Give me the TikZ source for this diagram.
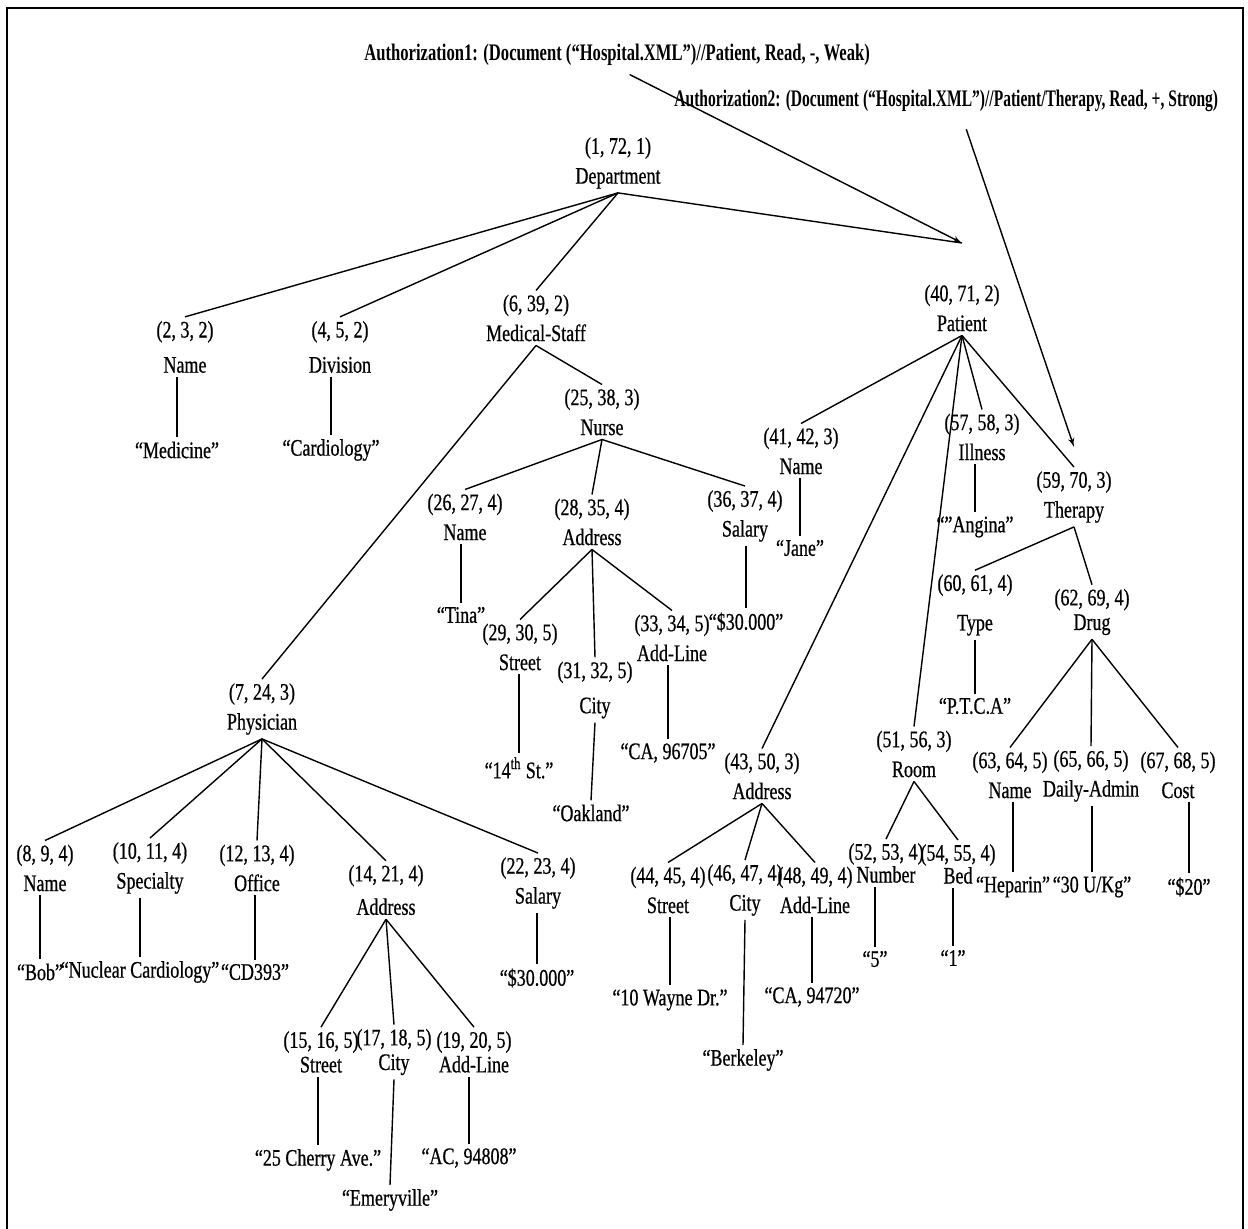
\documentclass[tikz,border=0pt]{standalone}
\usepackage{fontspec}
\setmainfont{Liberation Serif}[FakeStretch=0.76, FakeBold=0.6]
\newfontfamily\authfont{Liberation Serif}[FakeStretch=0.70]
\newfontfamily\authfontb{Liberation Serif}[FakeStretch=0.655]
\usepackage{tikz}
\usetikzlibrary{shapes,arrows,positioning}

\begin{document}
\begin{tikzpicture}[x=0.02cm, y=-0.02cm, >=latex', line width=0.8pt,
	el/.style={align=center, inner sep=2pt, font=\fontsize{13.5}{17}\selectfont},
	val/.style={inner sep=2pt, font=\fontsize{13.5}{17}\selectfont},
	auth/.style={inner sep=1pt, font=\fontsize{13.5}{17}\authfont\bfseries}]
	\useasboundingbox (0,0) rectangle (1248,1229);
	\draw [line width=1.2pt] (7,1229) -- (7,8) -- (1243,8) -- (1243,1229);
	% the two authorizations
	\node [auth, anchor=west] (auth1) at (362,55) {Authorization1: (Document (“Hospital.XML”)//Patient, Read, -, Weak)};
	\node [auth, anchor=west, font=\fontsize{13.5}{17}\authfontb\bfseries] (auth2) at (672,101) {Authorization2: (Document (“Hospital.XML”)//Patient/Therapy, Read, +, Strong)};
	% We start by placing the elements
	\node [el] (dept) at (618,163) {(1, 72, 1)\\Department};
	\node [el] (dname) at (185,347) {(2, 3, 2)\\[3pt]Name};
	\node [el] (ddiv) at (340,347) {(4, 5, 2)\\[3pt]Division};
	\node [el] (mstaff) at (536,318) {(6, 39, 2)\\Medical-Staff};
	\node [el] (patient) at (962,308) {(40, 71, 2)\\Patient};
	\coordinate [above=0.75cm of patient.north] (ptop);
	% medical staff: nurse
	\node [el] (nurse) at (602,412) {(25, 38, 3)\\Nurse};
	\node [el] (nname) at (465,517) {(26, 27, 4)\\Name};
	\node [el] (naddr) at (592,522) {(28, 35, 4)\\Address};
	\node [el] (nsal) at (745,516) {(36, 37, 4)\\Salary};
	\node [el] (nstreet) at (520,647) {(29, 30, 5)\\Street};
	\node [el] (ncity) at (595,690) {(31, 32, 5)\\[3pt]City};
	\node [el] (nline) at (672,638) {(33, 34, 5)\\Add-Line};
	% medical staff: physician
	\node [el] (phys) at (262,709) {(7, 24, 3)\\Physician};
	\node [el] (pname) at (45,868) {(8, 9, 4)\\Name};
	\node [el] (pspec) at (150,868) {(10, 11, 4)\\Specialty};
	\node [el] (poff) at (257,868) {(12, 13, 4)\\Office};
	\node [el] (paddr) at (386,890) {(14, 21, 4)\\[2pt]Address};
	\node [el] (psal) at (538,883) {(22, 23, 4)\\Salary};
	\node [el] (pstreet) at (321,1052) {(15, 16, 5)\\[-3pt]Street};
	\node [el] (pcity) at (394,1052) {(17, 18, 5)\\[-3pt]City};
	\node [el] (pline) at (474,1052) {(19, 20, 5)\\[-3pt]Add-Line};
	% patient
	\node [el] (tname) at (801,451) {(41, 42, 3)\\Name};
	\node [el] (till) at (982,437) {(57, 58, 3)\\Illness};
	\node [el] (ther) at (1074,497) {(59, 70, 3)\\Therapy};
	\coordinate [above=0.4cm of ther.north] (thtop);
	\node [el] (ttype) at (975,605) {(60, 61, 4)\\[5.5pt]Type};
	\node [el] (tdrug) at (1092,612) {(62, 69, 4)\\[-3pt]Drug};
	\node [el] (gname) at (1010,775) {(63, 64, 5)\\Name};
	\node [el] (gdaily) at (1091,776) {(65, 66, 5)\\Daily-Admin};
	\node [el] (gcost) at (1178,775) {(67, 68, 5)\\Cost};
	\node [el] (taddr) at (762,776) {(43, 50, 3)\\Address};
	\node [el] (tstreet) at (668,890) {(44, 45, 4)\\Street};
	\node [el] (tcity) at (745,890) {(46, 47, 4)\\City};
	\node [el] (tline) at (815,890) {(48, 49, 4)\\Add-Line};
	\node [el] (room) at (914,754) {(51, 56, 3)\\Room};
	\node [el] (rnum) at (886,863) {(52, 53, 4)\\[-4pt]Number};
	\node [el] (rbed) at (958,864) {(54, 55, 4)\\[-4pt]Bed};
	% values
	\node [val] (vmed) at (177,450) {“Medicine”};
	\node [val] (vcard) at (331,450) {“Cardiology”};
	\node [val] (vtina) at (461,615) {“Tina”};
	\node [val] (vst) at (519,768) {“14\textsuperscript{th} St.”};
	\node [val] (voak) at (591,813) {“Oakland”};
	\node [val] (v96705) at (668,753) {“CA, 96705”};
	\node [val] (vnsal) at (746,622) {“\$30.000”};
	\node [val] (vbob) at (40,972) {“Bob”};
	\node [val] (vnuc) at (140,972) {“Nuclear Cardiology”};
	\node [val] (vcd) at (255,972) {“CD393”};
	\node [val] (vcherry) at (318,1160) {“25 Cherry Ave.”};
	\node [val] (vemery) at (390,1200) {“Emeryville”};
	\node [val] (v94808) at (469,1158) {“AC, 94808”};
	\node [val] (vpsal) at (537,978) {“\$30.000”};
	\node [val] (vjane) at (800,548) {“Jane”};
	\node [val] (vang) at (975,527) {“"Angina”};
	\node [val] (vptca) at (975,706) {“P.T.C.A”};
	\node [val] (vhep) at (1013,887) {“Heparin”};
	\node [val] (vukg) at (1092,887) {“30 U/Kg”};
	\node [val] (vcost) at (1189,887) {“\$20”};
	\node [val] (vwayne) at (670,1000) {“10 Wayne Dr.”};
	\node [val] (vberk) at (743,1060) {“Berkeley”};
	\node [val] (v94720) at (812,997) {“CA, 94720”};
	\node [val] (vfive) at (875,959) {“5”};
	\node [val] (vone) at (953,958) {“1”};
	% Once the nodes are placed, connecting them is easy.
	\draw [->, shorten <=8pt] (auth1.south) -- (ptop);
	\draw [->] ([xshift=0.4cm, yshift=-0.3cm]auth2.south) -- (thtop);
	\draw (dept.south) -- (dname.north);
	\draw (dept.south) -- (ddiv.north);
	\draw (dept.south) -- (mstaff.north);
	\draw (dept.south) -- (ptop);
	\draw (mstaff.south) -- (phys.north);
	\draw (mstaff.south) -- (nurse.north);
	\draw (nurse.south) -- (nname.north);
	\draw (nurse.south) -- (naddr.north);
	\draw (nurse.south) -- (nsal.north);
	\draw (naddr.south) -- (nstreet.north);
	\draw (naddr.south) -- (ncity.north);
	\draw (naddr.south) -- (nline.north);
	\draw (phys.south) -- (pname.north);
	\draw (phys.south) -- (pspec.north);
	\draw (phys.south) -- (poff.north);
	\draw (phys.south) -- (paddr.north);
	\draw (phys.south) -- (psal.north);
	\draw (paddr.south) -- (pstreet.north);
	\draw (paddr.south) -- (pcity.north);
	\draw (paddr.south) -- (pline.north);
	\draw (patient.south) -- (tname.north);
	\draw (patient.south) -- (taddr.north);
	\draw (patient.south) -- (room.north);
	\draw (patient.south) -- (till.north);
	\draw (patient.south) -- (ther.north);
	\draw (ther.south) -- (ttype.north);
	\draw (ther.south) -- (tdrug.north);
	\draw (tdrug.south) -- (gname.north);
	\draw (tdrug.south) -- (gdaily.north);
	\draw (tdrug.south) -- (gcost.north);
	\draw (taddr.south) -- (tstreet.north);
	\draw (taddr.south) -- (tcity.north);
	\draw (taddr.south) -- (tline.north);
	\draw (room.south) -- (rnum.north);
	\draw (room.south) -- (rbed.north);
	% leaves
	\draw (vmed.north |- dname.south) -- (vmed.north);
	\draw (vcard.north |- ddiv.south) -- (vcard.north);
	\draw (vtina.north |- nname.south) -- (vtina.north);
	\draw (vst.north |- nstreet.south) -- (vst.north);
	\draw (ncity.south) -- (voak.north);
	\draw (v96705.north |- nline.south) -- (v96705.north);
	\draw (vnsal.north |- nsal.south) -- (vnsal.north);
	\draw (vbob.north |- pname.south) -- (vbob.north);
	\draw (vnuc.north |- pspec.south) -- (vnuc.north);
	\draw (vcd.north |- poff.south) -- (vcd.north);
	\draw (vcherry.north |- pstreet.south) -- (vcherry.north);
	\draw (pcity.south) -- (vemery.north);
	\draw (v94808.north |- pline.south) -- (v94808.north);
	\draw (vpsal.north |- psal.south) -- (vpsal.north);
	\draw (vjane.north |- tname.south) -- (vjane.north);
	\draw (vang.north |- till.south) -- (vang.north);
	\draw (vptca.north |- ttype.south) -- (vptca.north);
	\draw (vhep.north |- gname.south) -- (vhep.north);
	\draw (vukg.north |- gdaily.south) -- (vukg.north);
	\draw (vcost.north |- gcost.south) -- (vcost.north);
	\draw (vwayne.north |- tstreet.south) -- (vwayne.north);
	\draw (tcity.south) -- (vberk.north);
	\draw (v94720.north |- tline.south) -- (v94720.north);
	\draw (vfive.north |- rnum.south) -- (vfive.north);
	\draw (vone.north |- rbed.south) -- (vone.north);
\end{tikzpicture}
\end{document}
